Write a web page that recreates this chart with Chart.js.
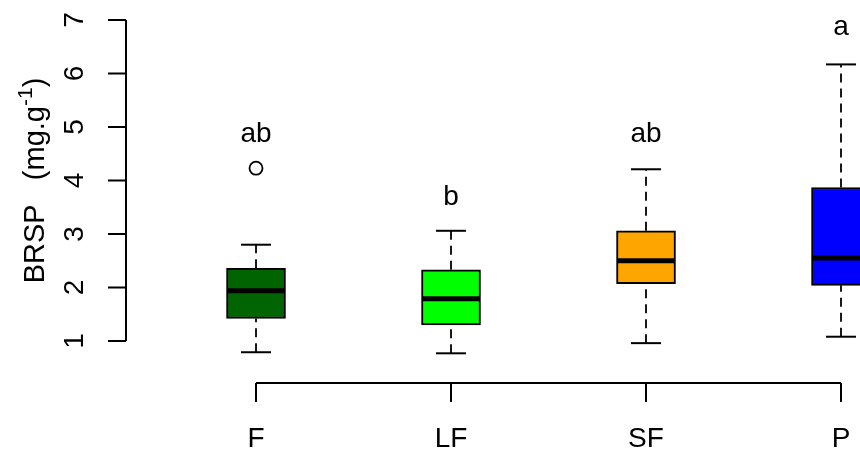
<!DOCTYPE html>
<html>
<head>
<meta charset="utf-8">
<script src="https://cdn.jsdelivr.net/npm/chart.js@4/dist/chart.umd.min.js"></script>
<style>
  html, body { margin: 0; padding: 0; background: #fff; overflow: hidden; }
  canvas { display: block; }
</style>
</head>
<body>
<canvas id="box" width="860" height="449"></canvas>
<script>
// values
const categories = ["F", "LF", "SF", "P"];
const lowerWhisker = [0.79, 0.77, 0.96, 1.08];
const q1 = [1.42, 1.30, 2.07, 2.04];
const median = [1.94, 1.79, 2.50, 2.55];
const q3 = [2.36, 2.33, 3.06, 3.87];
const upperWhisker = [2.80, 3.06, 4.21, 6.17];
const outliers = [[4.23], [], [], []];
const letters = ["ab", "b", "ab", "a"];
const letterY = [4.72, 3.54, 4.72, 6.72];
const yTicks = [1, 2, 3, 4, 5, 6, 7];

const boxColors = ["#006400", "#00ff00", "#ffa500", "#0000ff"];
const FONT = "Liberation Sans, Arial, sans-serif";
const xs = categories.map((c, i) => i + 1);

const whiskerData = xs.flatMap((x, i) => [
  { x, y: lowerWhisker[i] }, { x, y: q1[i] }, { x, y: null },
  { x, y: q3[i] }, { x, y: upperWhisker[i] }, { x, y: null }
]);
const capData = xs.flatMap((x, i) => [{ x, y: lowerWhisker[i] }, { x, y: upperWhisker[i] }]);
const outlierData = xs.flatMap((x, i) => outliers[i].map(v => ({ x, y: v })));

// R style axes, letters and y title
const rAxes = {
  id: "rAxes",
  afterDatasetsDraw(chart) {
    const { ctx, chartArea, scales: { x, y } } = chart;
    ctx.save();
    ctx.strokeStyle = "#000";
    ctx.fillStyle = "#000";
    ctx.lineWidth = 2;

    // y axis
    const ax = chartArea.left;
    ctx.beginPath();
    ctx.moveTo(ax, y.getPixelForValue(yTicks[0]));
    ctx.lineTo(ax, y.getPixelForValue(yTicks[yTicks.length - 1]));
    yTicks.forEach(t => {
      const py = y.getPixelForValue(t);
      ctx.moveTo(ax, py);
      ctx.lineTo(ax - 18, py);
    });
    ctx.stroke();
    ctx.font = "28px " + FONT;
    ctx.textAlign = "center";
    ctx.textBaseline = "alphabetic";
    yTicks.forEach(t => {
      ctx.save();
      ctx.translate(83, y.getPixelForValue(t));
      ctx.rotate(-Math.PI / 2);
      ctx.fillText(String(t), 0, 0);
      ctx.restore();
    });

    // x axis
    const ay = chartArea.bottom;
    ctx.beginPath();
    ctx.moveTo(x.getPixelForValue(xs[0]), ay);
    ctx.lineTo(x.getPixelForValue(xs[xs.length - 1]), ay);
    xs.forEach(v => {
      const px = x.getPixelForValue(v);
      ctx.moveTo(px, ay);
      ctx.lineTo(px, ay + 19);
    });
    ctx.stroke();
    xs.forEach((v, i) => ctx.fillText(categories[i], x.getPixelForValue(v), 447));

    // significance letters
    xs.forEach((v, i) => ctx.fillText(letters[i], x.getPixelForValue(v), y.getPixelForValue(letterY[i])));

    // y title: BRSP   (mg.g^-1)
    const main1 = "BRSP   (mg.g", sup = "-1", main2 = ")";
    ctx.font = "29px " + FONT;
    const w1 = ctx.measureText(main1).width, w3 = ctx.measureText(main2).width;
    ctx.font = "21px " + FONT;
    const w2 = ctx.measureText(sup).width;
    const total = w1 + w2 + w3;
    ctx.save();
    ctx.translate(44, (y.getPixelForValue(1) + y.getPixelForValue(7)) / 2);
    ctx.rotate(-Math.PI / 2);
    ctx.textAlign = "left";
    let tx = -total / 2;
    ctx.font = "29px " + FONT;
    ctx.fillText(main1, tx, 0);
    tx += w1;
    ctx.font = "21px " + FONT;
    ctx.fillText(sup, tx, -12);
    tx += w2;
    ctx.font = "29px " + FONT;
    ctx.fillText(main2, tx, 0);
    ctx.restore();

    ctx.restore();
  }
};

new Chart(document.getElementById("box"), {
  type: "bar",
  data: {
    datasets: [
      {
        type: "line",
        data: whiskerData,
        borderColor: "#000",
        borderWidth: 1.8,
        borderDash: [9, 6],
        pointRadius: 0,
        spanGaps: false,
        order: 5
      },
      {
        type: "bar",
        data: xs.map((x, i) => ({ x, y: [q1[i], q3[i]] })),
        backgroundColor: boxColors,
        borderColor: "#000",
        borderWidth: 2,
        borderSkipped: false,
        barThickness: 59,
        order: 4
      },
      {
        type: "scatter",
        data: capData,
        pointStyle: "line",
        pointRadius: 15,
        pointBorderWidth: 2,
        borderColor: "#000",
        order: 3
      },
      {
        type: "scatter",
        data: xs.map((x, i) => ({ x, y: median[i] })),
        pointStyle: "line",
        pointRadius: 29,
        pointBorderWidth: 5,
        borderColor: "#000",
        order: 2
      },
      {
        type: "scatter",
        data: outlierData,
        pointStyle: "circle",
        pointRadius: 6.5,
        pointBorderWidth: 1.8,
        borderColor: "#000",
        backgroundColor: "rgba(255,255,255,0)",
        order: 1
      }
    ]
  },
  options: {
    responsive: false,
    devicePixelRatio: 1,
    animation: false,
    layout: { autoPadding: false, padding: { left: 126, right: 0, top: 10, bottom: 66 } },
    plugins: { legend: { display: false }, tooltip: { enabled: false } },
    scales: {
      x: { type: "linear", min: 0.3333, max: 4.0974, offset: false, display: false },
      y: { type: "linear", min: 0.215, max: 7.187, display: false }
    }
  },
  plugins: [rAxes]
});
</script>
</body>
</html>
